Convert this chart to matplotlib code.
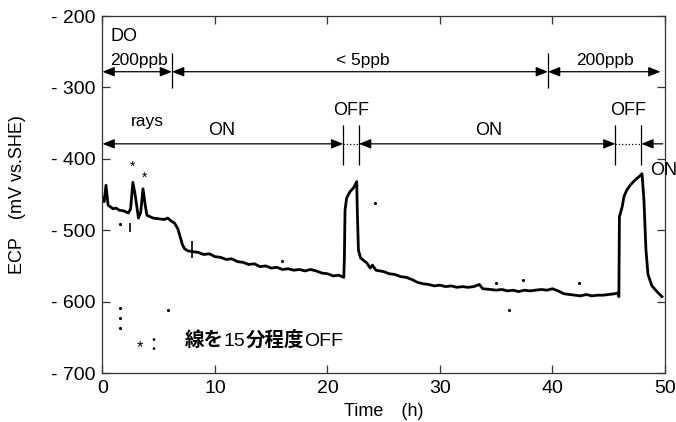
import matplotlib
matplotlib.use("Agg")
import matplotlib.pyplot as plt

plt.rcParams['font.family'] = ['Liberation Sans', 'Noto Sans CJK JP']

# ECP trace (time in h, ECP in mV vs. SHE)
time_h = [0, 0.15, 0.31, 0.5, 0.95, 1.2, 1.5, 1.9, 2.3, 2.5, 2.7, 2.9, 3.2, 3.4,
          3.6, 3.8, 3.95, 4.5, 5.0, 5.5, 5.8, 6.1, 6.4, 6.7, 6.9, 7.1, 7.3, 7.6,
          8.0, 8.5, 9.0, 9.5, 10.0, 10.5, 11.0, 11.5, 12.0, 12.5, 13.0, 13.5,
          14.0, 14.5, 15.0, 15.5, 16.0, 16.5, 17.0, 17.5, 18.0, 18.5, 19.0, 19.5,
          20.0, 20.5, 21.0, 21.45,
          21.5, 21.56, 21.7, 22.0, 22.3, 22.6, 22.65, 22.75, 22.95, 23.5, 23.8,
          24.0, 24.3, 25.0, 25.5, 26.0, 26.5, 27.0, 27.5, 28.0, 28.5, 29.0, 29.5,
          30.0, 30.5, 31.0, 31.5, 32.0, 32.5, 33.0, 33.5, 33.8, 34.5, 35.0, 35.5,
          36.0, 36.5, 37.0, 37.5, 38.0, 38.5, 39.0, 39.5, 40.0, 40.5, 41.0, 41.5,
          42.0, 42.5, 43.0, 43.5, 44.0, 44.5, 45.0, 45.5, 45.85, 45.9,
          45.95, 46.2, 46.35, 46.6, 46.9, 47.2, 47.96, 48.13, 48.31, 48.49,
          48.84, 49.29, 49.73]
ecp_mv = [-455, -460, -437, -465, -470, -469, -472, -473, -476, -470, -433, -450,
          -483, -475, -442, -465, -479, -483, -484, -485, -483, -487, -490, -498,
          -509, -520, -526, -529,
          -530, -531, -534, -533, -537, -538, -541, -540, -544, -545, -548, -547,
          -551, -550, -553, -552, -555, -554, -556, -555, -557, -555, -557, -560,
          -561, -564, -563, -566,
          -540, -472, -455, -446, -441, -432, -472, -528, -539, -546, -553,
          -549, -556, -558, -561, -562, -565, -566, -569, -573, -575, -576, -578,
          -577, -579, -578, -580, -579, -580, -579, -576, -582, -583, -584, -583,
          -585, -584, -586, -584, -585, -584, -583, -584, -582, -585, -589, -590,
          -591, -592, -590, -592, -591, -591, -590, -589, -588, -593,
          -481, -467, -453, -444, -437, -432, -421, -458, -528, -562,
          -578, -586, -593]

# isolated points
dots_t = [1.55, 1.55, 1.55, 1.55, 5.8, 16.0, 24.2, 35.0, 36.1, 37.4, 42.4]
dots_v = [-491, -609, -623, -637, -612, -543, -462, -574, -612, -570, -574]
# short vertical glitches (time, low, high)
glitch_t = [2.45, 8.0]
glitch_lo = [-503, -539]
glitch_hi = [-490, -515]

yticks = [-200, -300, -400, -500, -600, -700]
ytick_labels = ['- 200', '- 300', '- 400', '- 500', '- 600', '- 700']
xticks = [0, 10, 20, 30, 40, 50]

# DO periods and gamma-ray ON/OFF periods (h)
do_bounds = [0, 6.18, 39.6, 49.6]
do_labels = ['200ppb', '< 5ppb', '200ppb']
ray_on = [(0, 21.4), (22.8, 45.6)]
ray_off = [(21.4, 22.8), (45.6, 47.9)]

fig = plt.figure(figsize=(6.76, 4.22), dpi=100)
ax = fig.add_axes([0.1516, 0.1161, 0.8321, 0.8459])

ax.plot(time_h, ecp_mv, color='black', lw=2.0)
ax.plot(dots_t, dots_v, 'k.', ms=2.5)
ax.vlines(glitch_t, glitch_lo, glitch_hi, color='black', lw=1.2)

ax.set_xlim(0, 50)
ax.set_ylim(-700, -200)
ax.set_xticks(xticks)
ax.set_yticks(yticks)
ax.set_yticklabels(ytick_labels)
ax.tick_params(direction='in', length=6, width=0.9, labelsize=14, top=True,
               right=True, color='#333333')
ax.tick_params(axis='x', pad=5)
ax.tick_params(axis='y', pad=5)
for sp in ax.spines.values():
    sp.set_linewidth(0.9)
    sp.set_color('#333333')

arr = dict(arrowstyle='<|-|>,head_length=0.72,head_width=0.29', color='black',
           lw=0.9, shrinkA=0, shrinkB=0, mutation_scale=10)
one = dict(arrowstyle='-|>,head_length=0.72,head_width=0.29', color='black',
           lw=0.9, shrinkA=0, shrinkB=0, mutation_scale=10)

fs = 13

# DO row
y_do = -278
for a, b in zip(do_bounds[:-1], do_bounds[1:]):
    ax.annotate('', xy=(b, y_do), xytext=(a, y_do), arrowprops=arr)
ax.vlines([do_bounds[1], do_bounds[2]], -252, -301, color='black', lw=0.9)
ax.text(0.67, -229, 'DO', fontsize=fs, va='center', ha='left')
ax.text(0.67, -262, do_labels[0], fontsize=12.5, va='center', ha='left')
ax.text(23.1, -262, do_labels[1], fontsize=12.5, va='center', ha='center')
ax.text(44.7, -262, do_labels[2], fontsize=12.5, va='center', ha='center')

# gamma-ray row
y_r = -379
for a, b in ray_on:
    ax.annotate('', xy=(b, y_r), xytext=(a, y_r), arrowprops=arr)
for a, b in ray_off:
    ax.plot([a, b], [y_r, y_r], color='black', lw=0.9, ls=':')
    ax.vlines([a, b], -353, -409, color='black', lw=0.9)
ax.annotate('', xy=(47.9, y_r), xytext=(49.8, y_r), arrowprops=one)
ax.text(3.95, -348, 'rays', fontsize=12.5, va='center', ha='center')
ax.text(10.6, -360, 'ON', fontsize=fs, va='center', ha='center')
ax.text(22.1, -332, 'OFF', fontsize=fs, va='center', ha='center')
ax.text(34.3, -360, 'ON', fontsize=fs, va='center', ha='center')
ax.text(46.7, -332, 'OFF', fontsize=fs, va='center', ha='center')
ax.text(48.7, -416, 'ON', fontsize=fs, va='center', ha='left', clip_on=False)

# asterisks on the spikes and the note
ax.text(2.7, -411, '*', fontsize=10, va='center', ha='center')
ax.text(3.7, -426, '*', fontsize=10, va='center', ha='center')
ax.text(3.3, -664, '*', fontsize=12, va='center', ha='center')
ax.text(4.5, -662, '：', fontsize=13, va='center', ha='center',
        family=['Noto Sans CJK JP'])
t1 = ax.text(7.3, -668, '線を', fontsize=14, va='bottom', ha='left',
             family=['Noto Sans CJK JP'], fontweight='bold')
t2 = ax.annotate('15', xy=(1, 0), xycoords=t1, fontsize=14, va='bottom',
                 ha='left', family=['Liberation Sans'])
t3 = ax.annotate('分程度', xy=(1, 0), xycoords=t2, fontsize=14, va='bottom',
                 ha='left', family=['Noto Sans CJK JP'], fontweight='bold')
ax.annotate('OFF', xy=(1, 0), xycoords=t3, fontsize=14, va='bottom',
            ha='left', family=['Liberation Sans'])

fig.text(384 / 676, 1 - 412 / 422, 'Time\u3000(h)', fontsize=13, ha='center',
         va='center', family=['Liberation Sans', 'Noto Sans CJK JP'])
fig.text(18 / 676, 1 - 195 / 422, 'ECP\u3000(mV vs.SHE)', fontsize=13,
         ha='center', va='center', rotation=90,
         family=['Liberation Sans', 'Noto Sans CJK JP'])

fig.savefig('out.png', dpi=100)
